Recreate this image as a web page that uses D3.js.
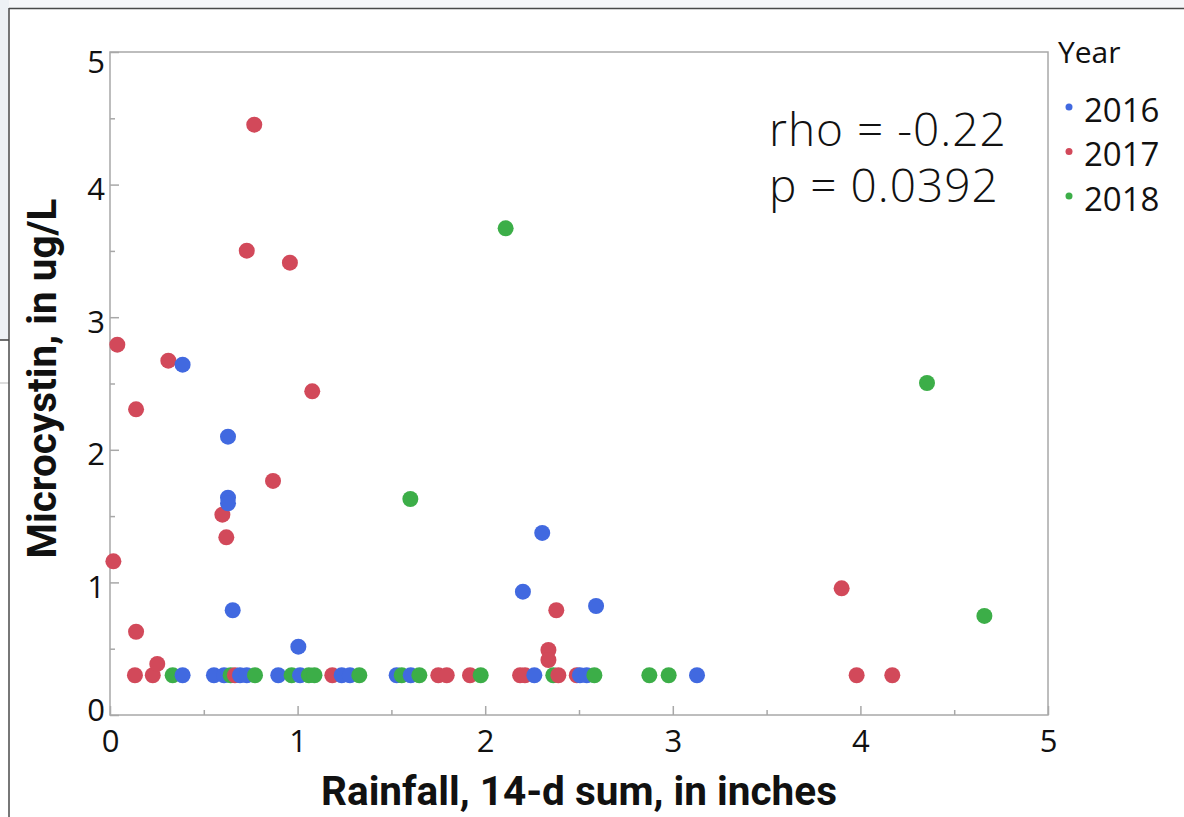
<!DOCTYPE html>
<html>
<head>
<meta charset="utf-8">
<script src="https://cdn.jsdelivr.net/npm/d3@7"></script>
<style>
  html, body { margin: 0; padding: 0; background: #fff; }
  svg { display: block; }
</style>
</head>
<body>
<div id="chart"></div>
<script>
const years = ["2016", "2017", "2018"];
const colors = ["#4169e0", "#d2495a", "#3cae48"];

// 2016
const rain2016 = [0.387, 0.629, 0.629, 0.629, 0.654, 1.004, 2.304, 2.201, 2.591,
  0.387, 0.554, 0.608, 0.693, 0.729, 0.897, 1.013, 1.235, 1.279, 1.528, 1.603, 2.262, 2.505, 2.541, 3.129];
const mc2016 = [2.642, 2.099, 1.639, 1.596, 0.79, 0.515, 1.373, 0.93, 0.822,
  0.3, 0.3, 0.3, 0.3, 0.3, 0.3, 0.3, 0.3, 0.3, 0.3, 0.3, 0.3, 0.3, 0.3, 0.3];

// 2017
const rain2017 = [0.769, 0.729, 0.959, 0.039, 0.311, 1.078, 0.139, 0.869, 0.599, 0.62, 0.018, 0.139, 0.252,
  2.379, 2.337, 2.337, 3.9,
  0.133, 0.228, 0.666, 1.185, 1.75, 1.795, 1.919, 2.186, 2.212, 2.39, 2.488, 3.98, 4.17];
const mc2017 = [4.452, 3.502, 3.411, 2.793, 2.672, 2.441, 2.305, 1.765, 1.511, 1.34, 1.159, 0.628, 0.385,
  0.79, 0.49, 0.415, 0.955,
  0.3, 0.3, 0.3, 0.3, 0.3, 0.3, 0.3, 0.3, 0.3, 0.3, 0.3, 0.3, 0.3];

// 2018
const rain2018 = [2.109, 4.355, 1.601, 4.661,
  0.334, 0.643, 0.773, 0.968, 1.06, 1.09, 1.329, 1.555, 1.649, 1.976, 2.363, 2.582, 2.875, 2.978];
const mc2018 = [3.67, 2.504, 1.629, 0.747,
  0.3, 0.3, 0.3, 0.3, 0.3, 0.3, 0.3, 0.3, 0.3, 0.3, 0.3, 0.3, 0.3, 0.3];

const xTicks = [0, 1, 2, 3, 4, 5];
const yTicks = [0, 1, 2, 3, 4, 5];
const minorTicks = [0.5, 1.5, 2.5, 3.5, 4.5];
const statLines = ["rho = -0.22", "p = 0.0392"];

const W = 1184, H = 817;
const svg = d3.select("#chart").append("svg").attr("width", W).attr("height", H);

// window chrome around the captured chart
svg.append("rect").attr("x", 0).attr("y", 0).attr("width", W).attr("height", 8).attr("fill", "#f6f7f9");
svg.append("rect").attr("x", 0).attr("y", 0).attr("width", 9).attr("height", 340).attr("fill", "#edf1f5");
svg.append("line").attr("x1", 0).attr("x2", 9).attr("y1", 340).attr("y2", 340).attr("stroke", "#111").attr("stroke-width", 1.2);
svg.append("line").attr("x1", 0).attr("x2", 9).attr("y1", 383).attr("y2", 383).attr("stroke", "#bbb").attr("stroke-width", 1);
svg.append("line").attr("x1", 9).attr("x2", W).attr("y1", 8.5).attr("y2", 8.5).attr("stroke", "#4a4a4a").attr("stroke-width", 1.5);
svg.append("line").attr("x1", 9).attr("x2", 9).attr("y1", 8).attr("y2", H).attr("stroke", "#4a4a4a").attr("stroke-width", 1.5);

const x = d3.scaleLinear().domain([0, 5]).range([110, 1048]);
const y = d3.scaleLinear().domain([0, 5]).range([715, 52]);

const tickFont = "'Open Sans', 'Noto Sans', sans-serif";
const axisGray = "#a8a8a8";

// minor ticks
svg.append("g")
  .attr("transform", `translate(0,${y(0)})`)
  .call(d3.axisBottom(x).tickValues(minorTicks).tickSize(-5).tickFormat(""))
  .call(g => g.select(".domain").remove())
  .selectAll("line").attr("stroke", axisGray).attr("stroke-width", 1.5);
svg.append("g")
  .attr("transform", `translate(${x(0)},0)`)
  .call(d3.axisLeft(y).tickValues(minorTicks).tickSize(-5).tickFormat(""))
  .call(g => g.select(".domain").remove())
  .selectAll("line").attr("stroke", axisGray).attr("stroke-width", 1.5);

// major ticks + labels
const xAxis = svg.append("g")
  .attr("transform", `translate(0,${y(0)})`)
  .call(d3.axisBottom(x).tickValues(xTicks).tickSize(-9).tickPadding(15).tickFormat(d3.format("d")));
xAxis.select(".domain").remove();
xAxis.selectAll("line").attr("stroke", axisGray).attr("stroke-width", 1.5);
xAxis.selectAll("text").attr("font-family", tickFont).attr("font-size", 31).attr("fill", "#111");

const yAxis = svg.append("g")
  .attr("transform", `translate(${x(0)},0)`)
  .call(d3.axisLeft(y).tickValues(yTicks).tickSize(-9).tickPadding(5).tickFormat(d3.format("d")));
yAxis.select(".domain").remove();
yAxis.selectAll("line").attr("stroke", axisGray).attr("stroke-width", 1.5);
yAxis.selectAll("text")
  .attr("font-family", tickFont).attr("font-size", 31).attr("fill", "#111")
  .attr("dy", "0.48em")
  .attr("y", d => (d === 5 ? 6 : d === 0 ? -9 : 0));

// frame
svg.append("rect")
  .attr("x", x(0)).attr("y", y(5))
  .attr("width", x(5) - x(0)).attr("height", y(0) - y(5))
  .attr("fill", "none").attr("stroke", axisGray).attr("stroke-width", 1.5);

// points, drawn left to right
const points = [];
[[rain2016, mc2016], [rain2017, mc2017], [rain2018, mc2018]].forEach(([rx, my], i) => {
  rx.forEach((v, j) => points.push({ year: years[i], rain: v, mc: my[j] }));
});
points.sort((a, b) => a.rain - b.rain);

const color = d3.scaleOrdinal().domain(years).range(colors);

svg.append("g")
  .selectAll("circle")
  .data(points)
  .join("circle")
  .attr("cx", d => x(d.rain))
  .attr("cy", d => y(d.mc))
  .attr("r", 8)
  .attr("fill", d => color(d.year));

// axis titles
const titleFont = "Roboto, 'Open Sans', sans-serif";
svg.append("text")
  .attr("x", (x(0) + x(5)) / 2).attr("y", 805)
  .attr("text-anchor", "middle")
  .attr("font-family", titleFont).attr("font-weight", "bold").attr("font-size", 40.5)
  .attr("fill", "#111")
  .text("Rainfall, 14-d sum, in inches");

svg.append("text")
  .attr("transform", `translate(56,${(y(0) + y(5)) / 2 - 5}) rotate(-90)`)
  .attr("text-anchor", "middle")
  .attr("font-family", titleFont).attr("font-weight", "bold").attr("font-size", 40.5)
  .attr("fill", "#111")
  .text("Microcystin, in ug/L");

// stats annotation (one text block, two lines)
svg.append("text")
  .attr("font-family", "'Open Sans', sans-serif")
  .attr("font-weight", 300)
  .attr("font-size", 46)
  .attr("letter-spacing", 1)
  .attr("fill", "#111")
  .selectAll("tspan")
  .data(statLines)
  .join("tspan")
  .attr("x", 769)
  .attr("y", (d, i) => 146 + i * 56)
  .text(d => d);

// legend
const legend = svg.append("g");
legend.append("text")
  .attr("x", 1058).attr("y", 63)
  .attr("font-family", tickFont).attr("font-size", 30).attr("fill", "#111")
  .text("Year");
const item = legend.selectAll(".item")
  .data(years)
  .join("g")
  .attr("class", "item")
  .attr("transform", (d, i) => `translate(0,${107 + i * 44.5})`);
item.append("circle").attr("cx", 1069).attr("cy", 0).attr("r", 3.5).attr("fill", d => color(d));
item.append("text")
  .attr("x", 1084).attr("y", 14.5)
  .attr("font-family", tickFont).attr("font-size", 33).attr("fill", "#111")
  .text(d => d);
</script>
</body>
</html>
